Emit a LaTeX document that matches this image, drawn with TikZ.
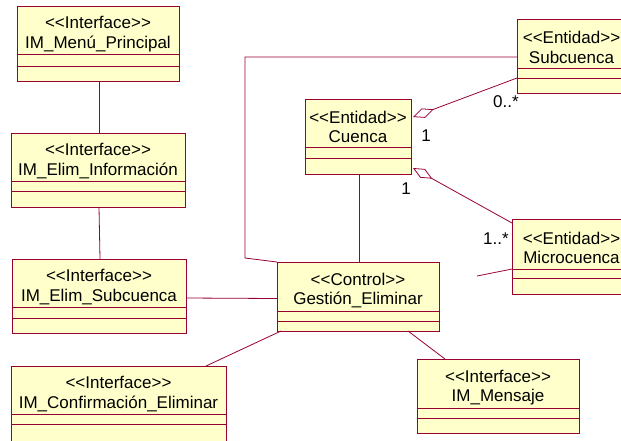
\documentclass[tikz,border=0pt]{standalone}
\usepackage{fontspec}
\setmainfont{Liberation Sans}
\usetikzlibrary{arrows.meta}
\definecolor{umlfill}{HTML}{FFFFCC}
\definecolor{umlline}{HTML}{990033}
\newcommand{\ltlt}{<\kern0pt<}
\newcommand{\gtgt}{>\kern0pt>}
\tikzset{
  classbox/.style={draw=umlline, fill=umlfill, line width=1pt, inner sep=0pt, outer sep=0pt, rectangle},
  comp/.style={draw=umlline, line width=0.9pt},
  classtext/.style={align=center, inner sep=0pt, font=\fontsize{17}{19.5}\selectfont},
  mult/.style={inner sep=0pt, font=\fontsize{17}{19.5}\selectfont},
  conn/.style={draw=umlline, line width=0.8pt},
  agg/.style={conn, {Diamond[open, length=22pt, width=10pt]}-}
}
% name x1 y1 x2 y2 c1 c2 stereo title
\newcommand{\umlclass}[9]{%
  \node[classbox, minimum width={#4-#2}, minimum height={#5-#3}] (#1) at ({(#2+#4)/2},{(#3+#5)/2}) {};
  \draw[comp] (#2,#6) -- (#4,#6);
  \draw[comp] (#2,#7) -- (#4,#7);
  \node[classtext] (#1-t) at ({(#2+#4)/2},{(#3+#6)/2+4}) {#8\\#9};
}
\begin{document}
\begin{tikzpicture}[x=1pt, y=-1pt]
\clip (0,0) rectangle (621,440);
\fill[white] (0,0) rectangle (621,440);

\umlclass{Menu}{17}{6}{179}{81}{54}{66}{\ltlt Interface\gtgt}{IM\_Menú\_Principal}
\umlclass{Info}{11}{133}{185}{207}{181}{191}{\ltlt Interface\gtgt}{IM\_Elim\_Información}
\umlclass{ESub}{12}{259}{186}{333}{307}{318}{\ltlt Interface\gtgt}{IM\_Elim\_Subcuenca}
\umlclass{Conf}{11}{366}{226}{442}{414}{424}{\ltlt Interface\gtgt}{IM\_Confirmación\_Eliminar}
\umlclass{Gest}{277}{262}{439}{331}{311}{321}{\ltlt Control\gtgt}{Gestión\_Eliminar}
\umlclass{Mens}{417}{359}{579}{433}{408}{418}{\ltlt Interface\gtgt}{IM\_Mensaje}
\umlclass{Cuen}{305}{99}{411}{174}{147}{158}{\ltlt Entidad\gtgt}{Cuenca}
\umlclass{Sub}{517}{19}{626}{93}{68}{78}{\ltlt Entidad\gtgt}{Subcuenca}
\umlclass{Micro}{512}{219}{631}{294}{269}{278}{\ltlt Entidad\gtgt}{Microcuenca}

\coordinate (b1) at (245,57);
\coordinate (b2) at (245,258);
\coordinate (stub) at (477,276);

\draw[conn] ([xshift=1pt]Menu.south) -- ([xshift=1pt]Info.north);
\draw[conn] ([xshift=1pt]Info.south) -- ([xshift=1pt]ESub.north);
\draw[conn] ([yshift=-2pt]ESub.east) -- ([yshift=-2pt]Gest.west);
\draw[conn] ([xshift=-20pt]Conf.north east) -- ([xshift=4pt]Gest.south west);
\draw[conn] ([xshift=-31pt]Gest.south east) -- ([xshift=28pt]Mens.north west);
\draw[conn] ([xshift=1pt]Gest.north) -- ([xshift=1pt]Cuen.south);
\draw[conn] ([yshift=-38pt]Sub.north west) -- (b1) -- (b2) -- (Gest.north west);
\draw[agg] ([xshift=2pt,yshift=-18pt]Cuen.north east) -- ([yshift=15pt]Sub.south west);
\draw[agg] ([xshift=2pt,yshift=6pt]Cuen.south east) -- ([yshift=-4pt]Micro.north west);
\draw[conn] ([yshift=-50pt]Micro.north west) -- (stub);

\node[mult] (m1) at (506,102) {0..*};
\node[mult] (m2) at (426,136) {1};
\node[mult] (m3) at (406,189) {1};
\node[mult] (m4) at (496,239) {1..*};
\end{tikzpicture}
\end{document}
